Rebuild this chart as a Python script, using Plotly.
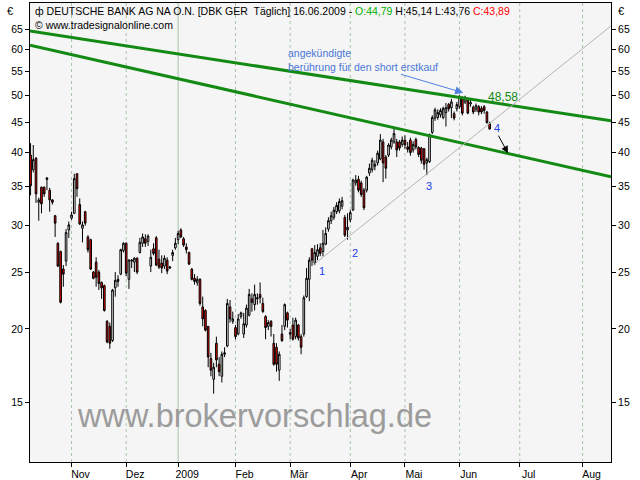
import math
import numpy as np
import pandas as pd
import plotly.graph_objects as go

# ---------------- data ----------------
start_date = "2008-10-13"
axis_end_date = "2009-08-31"
exchange_holidays = ["2008-12-24", "2008-12-25", "2008-12-26", "2008-12-31",
                     "2009-01-01", "2009-04-10", "2009-04-13", "2009-05-01"]

opens = [39.6, 37.4, 39.1, 32.9, 34.9, 34.9, 36.2, 34.5, 33.2, 31.2,
         28.0, 27.1, 25.3, 26.1, 29.5, 30.9, 31.5, 36.8, 32.6, 29.7,
         31.7, 28.7, 28.4, 25.0, 26.0, 25.0, 24.0, 23.7, 20.6, 20.2,
         19.1, 23.5, 24.3, 24.8, 27.2, 28.0, 24.3, 26.1, 26.0, 26.4,
         27.0, 28.0, 28.5, 28.2, 25.6, 27.4, 28.6, 26.3, 25.9, 25.6,
         26.2, 25.4, 26.7, 27.5, 28.4, 29.5, 28.5, 27.6, 27.0, 25.3,
         24.4, 24.0, 24.3, 21.8, 21.5, 20.2, 17.8, 16.4, 18.9, 17.4,
         16.6, 18.1, 18.7, 21.8, 20.6, 20.1, 19.6, 21.0, 19.6, 20.3,
         21.1, 22.5, 22.0, 22.5, 22.9, 22.1, 21.0, 20.2, 20.6, 18.9,
         18.6, 17.0, 19.6, 20.2, 21.3, 19.7, 20.3, 19.4, 20.3, 19.4,
         19.6, 22.7, 24.3, 27.4, 25.9, 26.6, 27.5, 27.1, 27.9, 29.6,
         30.6, 31.0, 31.7, 31.8, 32.4, 31.0, 29.5, 30.7, 31.9, 35.5,
         36.0, 35.5, 34.5, 34.5, 36.9, 37.4, 37.9, 38.4, 39.0, 41.7,
         39.3, 39.6, 40.9, 41.7, 41.7, 41.7, 41.3, 42.0, 40.9, 42.0,
         40.4, 42.1, 40.8, 40.7, 40.6, 38.4, 38.6, 43.3, 45.8, 45.9,
         46.4, 45.9, 46.8, 48.3, 47.7, 46.6, 47.5, 47.9, 49.6, 48.8,
         49.2, 48.4, 47.8, 47.4, 47.9, 47.6, 47.9, 46.9, 44.79]
highs = [41.5, 41.2, 39.3, 33.5, 35.0, 35.0, 36.3, 34.8, 33.3, 31.3,
         28.1, 27.2, 25.7, 29.6, 30.5, 31.7, 36.8, 36.9, 33.4, 30.5,
         31.8, 28.9, 28.5, 25.1, 26.5, 25.2, 24.1, 23.8, 20.7, 20.5,
         23.4, 25.0, 24.7, 27.4, 28.1, 28.1, 26.3, 26.3, 26.5, 26.5,
         28.6, 29.1, 29.0, 29.0, 27.3, 28.0, 28.8, 27.3, 26.7, 26.7,
         26.5, 25.6, 27.3, 28.6, 29.4, 29.7, 28.7, 28.0, 27.1, 25.4,
         24.8, 24.6, 24.4, 22.7, 21.6, 20.2, 18.2, 17.5, 19.4, 17.9,
         18.3, 18.6, 22.5, 22.4, 21.4, 20.3, 21.2, 21.4, 21.3, 22.0,
         23.4, 23.0, 23.8, 23.0, 24.0, 22.6, 21.1, 20.7, 20.7, 19.6,
         18.9, 18.3, 20.3, 22.1, 21.4, 20.0, 20.9, 20.9, 20.4, 19.6,
         22.8, 25.4, 26.5, 27.5, 27.8, 27.9, 28.0, 29.5, 29.8, 31.0,
         31.7, 32.3, 32.9, 33.4, 33.6, 31.3, 31.5, 31.9, 36.1, 36.6,
         36.5, 35.8, 34.8, 36.5, 38.3, 39.2, 38.8, 40.3, 43.0, 42.2,
         39.6, 41.5, 42.4, 43.9, 42.2, 42.0, 42.6, 42.8, 41.7, 42.4,
         41.8, 42.4, 41.0, 40.9, 40.7, 39.2, 43.1, 46.3, 47.7, 47.4,
         47.6, 47.9, 48.6, 48.6, 49.4, 47.0, 48.8, 50.1, 49.9, 50.0,
         49.5, 49.2, 48.1, 48.5, 48.2, 48.0, 48.2, 47.1, 45.14]
lows = [33.8, 37.0, 32.8, 30.6, 31.5, 33.6, 34.5, 31.7, 32.6, 28.7,
        25.5, 22.1, 23.6, 25.6, 28.6, 30.7, 31.4, 33.6, 30.1, 28.1,
        30.0, 27.0, 25.2, 24.3, 23.6, 23.3, 22.5, 21.4, 18.9, 18.5,
        19.0, 22.7, 23.6, 24.7, 27.0, 24.6, 23.4, 25.4, 25.0, 24.8,
        26.9, 27.6, 27.6, 27.7, 25.0, 26.7, 25.6, 25.3, 24.9, 25.3,
        24.8, 25.3, 26.1, 27.3, 27.9, 28.6, 27.6, 26.9, 25.7, 24.2,
        23.8, 23.7, 21.9, 20.2, 19.8, 17.2, 16.6, 15.5, 17.2, 16.6,
        16.2, 17.9, 18.6, 20.5, 20.4, 19.2, 19.5, 20.8, 19.3, 20.1,
        21.0, 21.4, 21.5, 22.0, 22.1, 21.3, 19.2, 19.9, 19.4, 17.3,
        16.9, 16.3, 19.0, 19.9, 20.1, 19.2, 19.1, 19.2, 19.1, 18.1,
        19.4, 22.6, 22.3, 25.6, 25.7, 26.2, 26.6, 26.6, 27.8, 29.3,
        30.2, 30.7, 31.4, 31.5, 32.0, 28.7, 28.4, 30.4, 31.8, 35.1,
        34.2, 33.6, 31.9, 34.2, 36.5, 37.0, 37.3, 38.0, 38.8, 35.6,
        36.1, 39.3, 40.5, 41.4, 39.3, 40.3, 40.9, 40.6, 40.0, 39.5,
        40.0, 40.5, 39.3, 38.3, 37.4, 36.6, 38.4, 43.0, 45.3, 45.5,
        45.9, 45.6, 44.3, 47.0, 45.8, 45.4, 47.0, 47.5, 46.3, 48.4,
        46.5, 47.9, 46.5, 46.9, 46.3, 46.5, 46.6, 44.8, 43.76]
closes = [35.1, 38.9, 34.0, 33.2, 32.7, 34.0, 36.0, 33.2, 32.9, 30.3,
          25.6, 22.2, 24.8, 29.2, 30.1, 31.3, 36.1, 34.7, 30.2, 30.1,
          30.3, 27.3, 25.3, 24.4, 24.5, 23.9, 23.5, 21.5, 19.0, 18.9,
          23.3, 24.2, 24.1, 27.3, 28.0, 24.9, 26.2, 26.2, 26.4, 25.0,
          28.1, 28.7, 28.0, 28.8, 26.5, 26.9, 25.7, 25.5, 25.4, 26.4,
          25.1, 25.5, 27.0, 28.0, 29.1, 28.7, 27.8, 27.3, 25.8, 24.3,
          24.1, 24.3, 22.1, 20.8, 19.9, 17.9, 17.0, 17.2, 17.7, 16.9,
          18.1, 18.2, 22.1, 20.8, 20.8, 19.4, 20.8, 21.3, 20.4, 21.7,
          22.9, 22.2, 22.9, 22.6, 22.6, 21.4, 20.1, 20.5, 20.2, 17.4,
          17.4, 18.1, 19.1, 22.0, 20.7, 19.6, 19.2, 20.7, 19.3, 18.6,
          22.6, 24.4, 26.2, 26.2, 27.0, 27.3, 26.9, 28.0, 29.1, 30.6,
          31.2, 31.9, 32.5, 33.0, 33.1, 28.9, 29.8, 31.6, 35.9, 35.9,
          34.5, 33.9, 32.2, 36.3, 37.6, 38.8, 38.2, 39.9, 42.0, 38.4,
          37.6, 41.2, 42.0, 43.1, 40.4, 40.7, 42.0, 41.2, 40.5, 40.0,
          41.3, 40.9, 39.7, 38.8, 38.2, 38.9, 42.9, 45.9, 47.3, 46.8,
          47.2, 47.6, 47.7, 47.5, 48.8, 45.8, 48.3, 49.7, 46.7, 49.7,
          46.7, 48.7, 46.9, 48.1, 46.9, 46.9, 47.2, 45.0, 43.89]

month_labels = ["Nov", "Dez", "2009", "Feb", "Mär", "Apr", "Mai", "Jun", "Jul", "Aug"]
price_ticks = [15, 20, 25, 30, 35, 40, 45, 50, 55, 60, 65]
solid_price_lines = [25, 50]

# drawn analysis (trading-day offset from start, price)
upper_channel_x = [-0.2, 212.4]
upper_channel_y = [64.5, 45.3]
lower_channel_x = [-0.2, 212.4]
lower_channel_y = [61.0, 36.35]
support_trend_x = [103, 212.4]
support_trend_y = [25.6, 65.8]
support_zone_x = [15.6, 182.0]
support_zone_y = [36.05, 36.75]
touch_zone_x = [155.3, 161.9]
touch_zone_y = [48.8, 50.2]
label_points = {"1": (106.6, 25.1), "2": (118.7, 27.0), "3": (145.8, 35.0), "4": (170.7, 44.0)}
value_label = ("48,58", 172.9, 49.8)
note_arrow = {"tail": (135.0, 54.5), "head": (158.3, 50.6)}
target_arrow = {"tail": (170.9, 43.0), "head": (174.7, 39.9)}

header_title = "ф DEUTSCHE BANK AG NA O.N. [DBK GER  Täglich] 16.06.2009 - "
header_open = "O:44,79"
header_mid = " H:45,14 L:43,76 "
header_close = "C:43,89"

# ---------------- calendar ----------------
days = pd.bdate_range(start_date, axis_end_date)
days = days[~days.isin(pd.to_datetime(exchange_holidays))]
n = len(opens)
xs = np.arange(n)
dates = [d.strftime("%d.%m.%Y") for d in days[:n]]
month_pos = [i for i in range(1, len(days)) if days[i].month != days[i - 1].month]

x_range = [-0.2, 212.4]
y_range = [math.log10(11.85), math.log10(72.0)]
L = math.log10

FONT = "Liberation Sans"
GRID = "#a9c3a9"

fig = go.Figure()
fig.add_trace(go.Candlestick(
    x=xs, open=opens, high=highs, low=lows, close=closes, text=dates,
    increasing=dict(line=dict(color="black", width=1), fillcolor="white"),
    decreasing=dict(line=dict(color="black", width=1), fillcolor="#ff0000"),
    whiskerwidth=0, showlegend=False))

for cx, cy in ((upper_channel_x, upper_channel_y), (lower_channel_x, lower_channel_y)):
    fig.add_trace(go.Scatter(x=cx, y=cy, mode="lines", line=dict(color="#138a13", width=3),
                             showlegend=False, hoverinfo="skip"))
fig.add_trace(go.Scatter(x=support_trend_x, y=support_trend_y, mode="lines",
                         line=dict(color="#b4b4b4", width=1), showlegend=False, hoverinfo="skip"))
# invisible trace for right-hand price axis
fig.add_trace(go.Scatter(x=[xs[0]], y=[closes[0]], yaxis="y2", mode="markers",
                         marker=dict(opacity=0), showlegend=False, hoverinfo="skip"))

shapes = []
for i, m in enumerate(month_pos):
    shapes.append(dict(type="line", xref="x", yref="paper", x0=m, x1=m, y0=0, y1=1, layer="below",
                       line=dict(color=GRID, width=1, dash="solid" if month_labels[i] == "2009" else "dot")))
for p in price_ticks:
    shapes.append(dict(type="line", xref="paper", yref="y", x0=0, x1=1, y0=L(p), y1=L(p), layer="below",
                       line=dict(color=GRID, width=1, dash="solid" if p in solid_price_lines else "dot")))
shapes.append(dict(type="rect", xref="x", yref="y", x0=support_zone_x[0], x1=support_zone_x[1],
                   y0=L(support_zone_y[0]), y1=L(support_zone_y[1]), layer="above",
                   fillcolor="#dcdff2", line=dict(color="black", width=1.5)))
shapes.append(dict(type="circle", xref="x", yref="y", x0=touch_zone_x[0], x1=touch_zone_x[1],
                   y0=L(touch_zone_y[0]), y1=L(touch_zone_y[1]), layer="above",
                   fillcolor="rgba(190,210,225,0.55)", line=dict(color="#555555", width=1)))

ann = []
def px2paper(px, py):
    return (px - 30) / 581.0, 1 - (py - 3) / 459.0

hx, hy = px2paper(33, 11)
ann.append(dict(xref="paper", yref="paper", x=hx, y=hy, xanchor="left", yanchor="middle", showarrow=False,
                text=header_title + "<span style='color:#00b000'>" + header_open + "</span>" + header_mid +
                     "<span style='color:#ff0000'>" + header_close + "</span>",
                font=dict(family=FONT, size=10.5, color="black")))
cx_, cy_ = px2paper(33, 25)
ann.append(dict(xref="paper", yref="paper", x=cx_, y=cy_, xanchor="left", yanchor="middle", showarrow=False,
                text="© www.tradesignalonline.com", font=dict(family=FONT, size=10.5, color="black")))
for ex in (10, 621):
    a, b = px2paper(ex, 11)
    ann.append(dict(xref="paper", yref="paper", x=a, y=b, xanchor="center", yanchor="middle", showarrow=False,
                    text="€", font=dict(family=FONT, size=11, color="black")))
wx, wy = px2paper(254, 416)
ann.append(dict(xref="paper", yref="paper", x=wx, y=wy, xanchor="center", yanchor="middle", showarrow=False,
                text="www.brokervorschlag.de", font=dict(family=FONT, size=32.5, color="#9c9c9c")))
nx, ny = px2paper(440, 60)
ann.append(dict(xref="paper", yref="paper", x=nx, y=ny, xanchor="right", yanchor="middle", showarrow=False,
                align="left", text="angekündigte<br>berührung für den short erstkauf",
                font=dict(family=FONT, size=10.5, color="#4a78d8")))
ann.append(dict(xref="x", yref="y", x=note_arrow["head"][0], y=L(note_arrow["head"][1]),
                axref="x", ayref="y", ax=note_arrow["tail"][0], ay=L(note_arrow["tail"][1]),
                showarrow=True, arrowhead=2, arrowsize=1.6, arrowwidth=1, arrowcolor="#4f80e2", text=""))
ann.append(dict(xref="x", yref="y", x=target_arrow["head"][0], y=L(target_arrow["head"][1]),
                axref="x", ayref="y", ax=target_arrow["tail"][0], ay=L(target_arrow["tail"][1]),
                showarrow=True, arrowhead=2, arrowsize=1.4, arrowwidth=1, arrowcolor="black", text=""))
for t, (lx, ly) in label_points.items():
    ann.append(dict(xref="x", yref="y", x=lx, y=L(ly), showarrow=False, text=t,
                    font=dict(family=FONT, size=11, color="#2040e8")))
ann.append(dict(xref="x", yref="y", x=value_label[1], y=L(value_label[2]), showarrow=False,
                text=value_label[0], font=dict(family=FONT, size=12, color="#138a13")))

axis_font = dict(family=FONT, size=10.5, color="black")
fig.update_layout(
    width=640, height=480,
    margin=dict(l=30, r=29, t=3, b=18, autoexpand=False),
    paper_bgcolor="white", plot_bgcolor="#f5f5f5",
    showlegend=False, boxgap=0.15,
    shapes=shapes, annotations=ann,
    xaxis=dict(range=x_range, rangeslider=dict(visible=False), showgrid=False, zeroline=False,
               automargin=False,
               tickmode="array", tickvals=month_pos, ticktext=month_labels,
               ticks="outside", ticklen=4, tickcolor="black", tickfont=axis_font,
               ticklabelshift=9, ticklabelstandoff=-2,
               showline=True, linecolor="black", linewidth=1, mirror=True),
    yaxis=dict(type="log", range=y_range, showgrid=False, zeroline=False, automargin=False,
               tickmode="array", tickvals=price_ticks, ticktext=[str(v) for v in price_ticks],
               ticks="outside", ticklen=4, tickcolor="black", tickfont=axis_font,
               showline=True, linecolor="black", linewidth=1, mirror=True),
    yaxis2=dict(type="log", range=y_range, overlaying="y", side="right", showgrid=False, zeroline=False,
                automargin=False,
                tickmode="array", tickvals=price_ticks, ticktext=[str(v) for v in price_ticks],
                ticks="outside", ticklen=4, tickcolor="black", tickfont=axis_font, showline=False),
)

fig.write_html("out.html", config={"displayModeBar": False},
               post_script="document.body.style.margin='0px';")
